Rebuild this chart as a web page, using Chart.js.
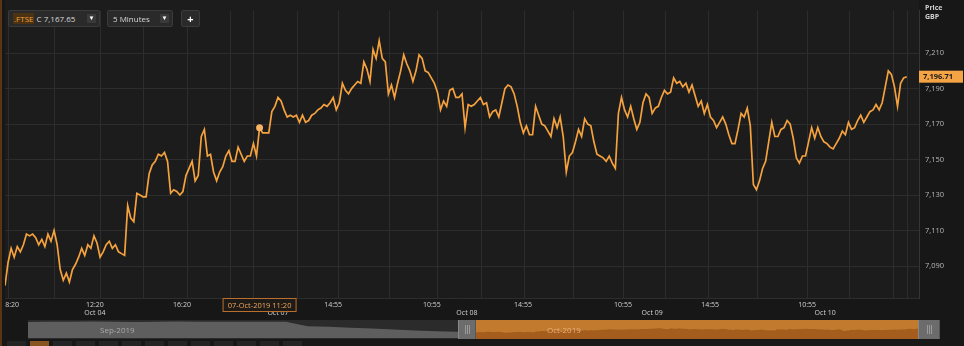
<!DOCTYPE html>
<html>
<head>
<meta charset="utf-8">
<script src="https://cdn.jsdelivr.net/npm/chart.js@4.4.0/dist/chart.umd.min.js"></script>
<style>
  body { margin: 0; background: #161616; }
  #wrap { position: relative; width: 964px; height: 346px; overflow: hidden; font-family: 'Open Sans', sans-serif; }
  #main { position: absolute; left: 0; top: 0; }
  .tb { position: absolute; top: 10px; height: 17px; background: #2a2a2a; border: 1px solid #3a3a3a; box-sizing: border-box;
        border-radius: 2px; color: #d8d8d8; font-size: 8px; line-height: 15px; white-space: nowrap; }
  .tb .ric { color: #f0a23a; background: #4a3212; padding: 0 1px; margin-left: 4px; }
  .tb .dd { position: absolute; top: 3px; width: 9px; height: 9px; line-height: 9px; text-align: center; font-size: 6px; color: #fff; background: #3a3a3a; }
  .axis-title { position: absolute; left: 925px; color: #cfcfcf; font-size: 7px; font-weight: bold; }
  #navband { position: absolute; left: 28px; top: 320px; width: 912px; height: 19px; background: #2b2b2b; }
  #navSep { position: absolute; left: 28px; top: 320px; }
  #navOct { position: absolute; left: 476px; top: 320px; background: #c27a2e; }
  .handle { position: absolute; top: 320px; height: 19px; background: #6c6c6c; border-left: 1px solid #888; border-right: 1px solid #555; box-sizing: border-box; }
  .handle i { position: absolute; top: 5px; width: 1px; height: 9px; background: #9a9a9a; }
  .navlbl { position: absolute; top: 324px; font-size: 8px; }
  .btn { position: absolute; top: 341px; width: 19px; height: 5px; background: #242424; }
  #leftedge { position: absolute; left: 0; top: 0; width: 2px; height: 346px; background: #5a3514; }
</style>
</head>
<body>
<div id="wrap">
  <canvas id="main" width="964" height="346"></canvas>

  <div class="tb" style="left:8px;width:92px"><span class="ric">.FTSE</span> C 7,167.65<span class="dd" style="left:78px">&#9660;</span></div>
  <div class="tb" style="left:107px;width:66px;padding-left:5px">5 Minutes<span class="dd" style="left:52px">&#9660;</span></div>
  <div class="tb" style="left:181px;width:19px;text-align:center;font-size:11px;font-weight:bold;color:#fff">+</div>

  <div class="axis-title" style="top:3px">Price</div>
  <div class="axis-title" style="top:12px">GBP</div>

  <div id="navband"></div>
  <canvas id="navSep" width="430" height="18"></canvas>
  <canvas id="navOct" width="442" height="19"></canvas>
  <div class="handle" style="left:458px;width:18px"><i style="left:6px"></i><i style="left:8px"></i><i style="left:10px"></i></div>
  <div class="handle" style="left:918px;width:22px"><i style="left:8px"></i><i style="left:10px"></i><i style="left:12px"></i></div>
  <div class="navlbl" style="left:100px;color:#a8a8a8">Sep-2019</div>
  <div class="navlbl" style="left:547px;color:#eab27a">Oct-2019</div>
  <div id="buttons"></div>
  <div id="leftedge"></div>
</div>

<script>
// FTSE 100, 5 minute closes, 3 Oct 2019 08:20 to 10 Oct 2019
const prices = [
  7079, 7092, 7100, 7095, 7101, 7098, 7102, 7108, 7107, 7108, 7106, 7102, 7105, 7101, 7108, 7104, 7110, 7102, 7088, 7082,
  7086, 7081, 7088, 7091, 7095, 7100, 7096, 7102, 7100, 7107, 7103, 7095, 7098, 7102, 7104, 7100, 7102, 7098, 7097, 7096,
  7124, 7117, 7115, 7131, 7130, 7129, 7129, 7142, 7147, 7149, 7153, 7152, 7154, 7149, 7131, 7133, 7132, 7130,
  7132, 7141, 7145, 7149, 7138, 7141, 7163, 7167, 7152, 7153, 7143, 7138, 7143, 7146, 7152, 7155, 7149, 7149, 7157, 7153,
  7149, 7152, 7152, 7159, 7152, 7168, 7165, 7165, 7165, 7177, 7180, 7185, 7183, 7178, 7174, 7175, 7174, 7175, 7171, 7175,
  7171, 7172, 7175, 7176, 7178, 7179, 7181, 7180, 7182, 7185, 7178, 7182, 7193, 7189, 7187, 7190, 7192, 7194, 7193,
  7205, 7201, 7194, 7212, 7207, 7217, 7207, 7205, 7187, 7192, 7185, 7193, 7200, 7209, 7204, 7200, 7194, 7200, 7209, 7207,
  7200, 7199, 7196, 7193, 7188, 7178, 7183, 7180, 7189, 7190, 7185, 7185, 7187, 7168, 7181, 7180, 7181, 7183, 7185, 7181,
  7182, 7174, 7177, 7178, 7174, 7182, 7190, 7192, 7191, 7187, 7180, 7171, 7165, 7169, 7164, 7164, 7180, 7175, 7170,
  7169, 7166, 7163, 7173, 7168, 7174, 7163, 7143, 7152, 7154, 7160, 7167, 7163, 7173, 7170, 7169, 7160, 7153, 7152, 7151,
  7149, 7152, 7148, 7145, 7176, 7185, 7178, 7174, 7180, 7173, 7167, 7171, 7182, 7187, 7185, 7176, 7179, 7180, 7185, 7189,
  7187, 7188, 7196, 7193, 7194, 7191, 7193, 7188, 7192, 7186, 7180, 7183, 7176, 7181, 7174, 7172, 7168, 7171,
  7174, 7170, 7164, 7159, 7159, 7167, 7176, 7174, 7179, 7169, 7136, 7133, 7138, 7145, 7149, 7160, 7171, 7163, 7163, 7167,
  7168, 7172, 7170, 7162, 7151, 7148, 7152, 7152, 7160, 7168, 7162, 7168, 7163, 7160, 7159, 7157, 7156, 7159, 7162, 7166,
  7164, 7171, 7167, 7168, 7172, 7175, 7171, 7174, 7177, 7178, 7181, 7178, 7182, 7191, 7200, 7198, 7191, 7180, 7193, 7196,
  7196.71
];

// price axis
const yMin = 7072;
const yMax = 7234;
const yTicks = [7090, 7110, 7130, 7150, 7170, 7190, 7210];

// time axis, in 5 minute bars from the first close
const xMax = 298;
const gridTicks = [1, 16.3, 31, 45, 59.4, 73.4, 80.9, 95.3, 108.6, 125.3, 141, 155.3, 169.3, 185.3, 201.6, 215.3, 229.4, 245.4, 261.7, 275.4, 289.7, 294.3];
const labelTicks = [2.3, 29.3, 57.7, 89, 107, 139.2, 150.6, 168.9, 201.5, 211, 229.9, 261.5, 267.4];
const labelTimes = ['8:20', '12:20', '16:20', '', '14:55', '10:55', '', '14:55', '10:55', '', '14:55', '10:55', ''];
const labelDates = ['', 'Oct 04', '', 'Oct 07', '', '', 'Oct 08', '', '', 'Oct 09', '', '', 'Oct 10'];

// crosshair
const markerIndex = 83;
const markerLabel = '07-Oct-2019 11:20';

// navigator, September closes
const navSep = [7392, 7398, 7395, 7401, 7396, 7390, 7399, 7404, 7397, 7393, 7400, 7395, 7398, 7262, 7240, 7215, 7190, 7160, 7130, 7105, 7092];
const navMin = 6900;
const navMax = 7450;

const orange = '#f5a23e';

// paint backgrounds
const backdrop = {
    id: 'backdrop',
    beforeDraw(chart) {
        const { ctx, chartArea: a } = chart;
        ctx.save();
        ctx.fillStyle = '#171717';
        ctx.fillRect(0, 0, chart.width, chart.height);
        ctx.fillStyle = '#1c1c1c';
        ctx.fillRect(a.left, 0, a.right - a.left, a.bottom);
        ctx.restore();
    }
};

// last price tag and crosshair date box
const overlays = {
    id: 'overlays',
    afterDraw(chart) {
        const ctx = chart.ctx;
        const a = chart.chartArea;
        const last = prices[prices.length - 1];
        const py = chart.scales.y.getPixelForValue(last);
        ctx.save();
        ctx.fillStyle = '#f4a445';
        ctx.fillRect(a.right, py - 6, 44, 12);
        ctx.fillStyle = '#1a1a1a';
        ctx.font = 'bold 7.5px "Open Sans"';
        ctx.textBaseline = 'middle';
        ctx.fillText(last.toLocaleString('en-US', { minimumFractionDigits: 2 }), a.right + 4, py + 0.5);

        const mx = chart.scales.x.getPixelForValue(markerIndex);
        ctx.fillStyle = '#1d1a17';
        ctx.strokeStyle = '#b8702c';
        ctx.lineWidth = 1;
        ctx.fillRect(mx - 37, a.bottom, 74, 14);
        ctx.strokeRect(mx - 36.5, a.bottom + 0.5, 73, 13);
        ctx.fillStyle = '#f2a95a';
        ctx.font = '7.5px "Open Sans"';
        ctx.textAlign = 'center';
        ctx.fillText(markerLabel, mx, a.bottom + 7.5);
        ctx.restore();
    }
};

new Chart(document.getElementById('main'), {
    type: 'line',
    data: {
        labels: prices.map((p, i) => i),
        datasets: [{
            data: prices,
            borderColor: orange,
            borderWidth: 1.7,
            tension: 0,
            pointRadius: ctx => ctx.dataIndex === markerIndex ? 3.5 : 0,
            pointBackgroundColor: '#f8b462',
            pointBorderWidth: 0,
            pointHoverRadius: 0
        }]
    },
    options: {
        responsive: false,
        devicePixelRatio: 1,
        animation: false,
        events: [],
        layout: { padding: { left: 5, top: 2, right: 0, bottom: 0 } },
        plugins: { legend: { display: false }, tooltip: { enabled: false } },
        scales: {
            x: {
                type: 'linear',
                position: 'bottom',
                min: 0,
                max: xMax,
                bounds: 'data',
                grid: { color: '#2d2d2d', drawTicks: false },
                border: { display: true, color: '#2d2d2d' },
                ticks: { display: false },
                afterBuildTicks: axis => { axis.ticks = gridTicks.map(v => ({ value: v })); },
                afterFit: axis => { axis.height = 0; }
            },
            xl: {
                type: 'linear',
                position: 'bottom',
                min: 0,
                max: xMax,
                bounds: 'data',
                grid: { display: false, drawTicks: false },
                border: { display: false },
                ticks: {
                    autoSkip: false,
                    maxRotation: 0,
                    padding: 3,
                    color: '#d2d2d2',
                    font: { family: 'Open Sans', size: 7, lineHeight: 1.15 },
                    callback: (v, i) => [labelTimes[i], labelDates[i]]
                },
                afterBuildTicks: axis => { axis.ticks = labelTicks.map(v => ({ value: v })); },
                afterFit: axis => { axis.height = 48; }
            },
            y: {
                position: 'right',
                min: yMin,
                max: yMax,
                bounds: 'data',
                grid: { color: '#2d2d2d', drawTicks: false },
                border: { display: true, color: '#363636' },
                ticks: {
                    padding: 6,
                    color: '#b8b8b8',
                    font: { family: 'Open Sans', size: 7.5 },
                    callback: v => v.toLocaleString('en-US')
                },
                afterBuildTicks: axis => { axis.ticks = yTicks.map(v => ({ value: v })); },
                afterFit: axis => { axis.width = 45; }
            }
        }
    },
    plugins: [backdrop, overlays]
});

// navigator strips
function navChart(id, values, fillColor) {
    new Chart(document.getElementById(id), {
        type: 'line',
        data: {
            labels: values.map((v, i) => i),
            datasets: [{
                data: values,
                fill: 'start',
                backgroundColor: fillColor,
                borderWidth: 0,
                pointRadius: 0,
                tension: 0
            }]
        },
        options: {
            responsive: false,
            devicePixelRatio: 1,
            animation: false,
            events: [],
            layout: { padding: 0 },
            plugins: { legend: { display: false }, tooltip: { enabled: false } },
            scales: {
                x: { display: false, offset: false },
                y: { display: false, min: navMin, max: navMax }
            }
        }
    });
}

navChart('navSep', navSep, '#5e5e5e');
navChart('navOct', prices, '#a55d1d');

// range buttons under the navigator
const buttons = document.getElementById('buttons');
for (let i = 0; i < 13; i++) {
    const b = document.createElement('div');
    b.className = 'btn';
    b.style.left = (7 + i * 23) + 'px';
    if (i === 1) b.style.background = '#8a5420';
    buttons.appendChild(b);
}
</script>
</body>
</html>
